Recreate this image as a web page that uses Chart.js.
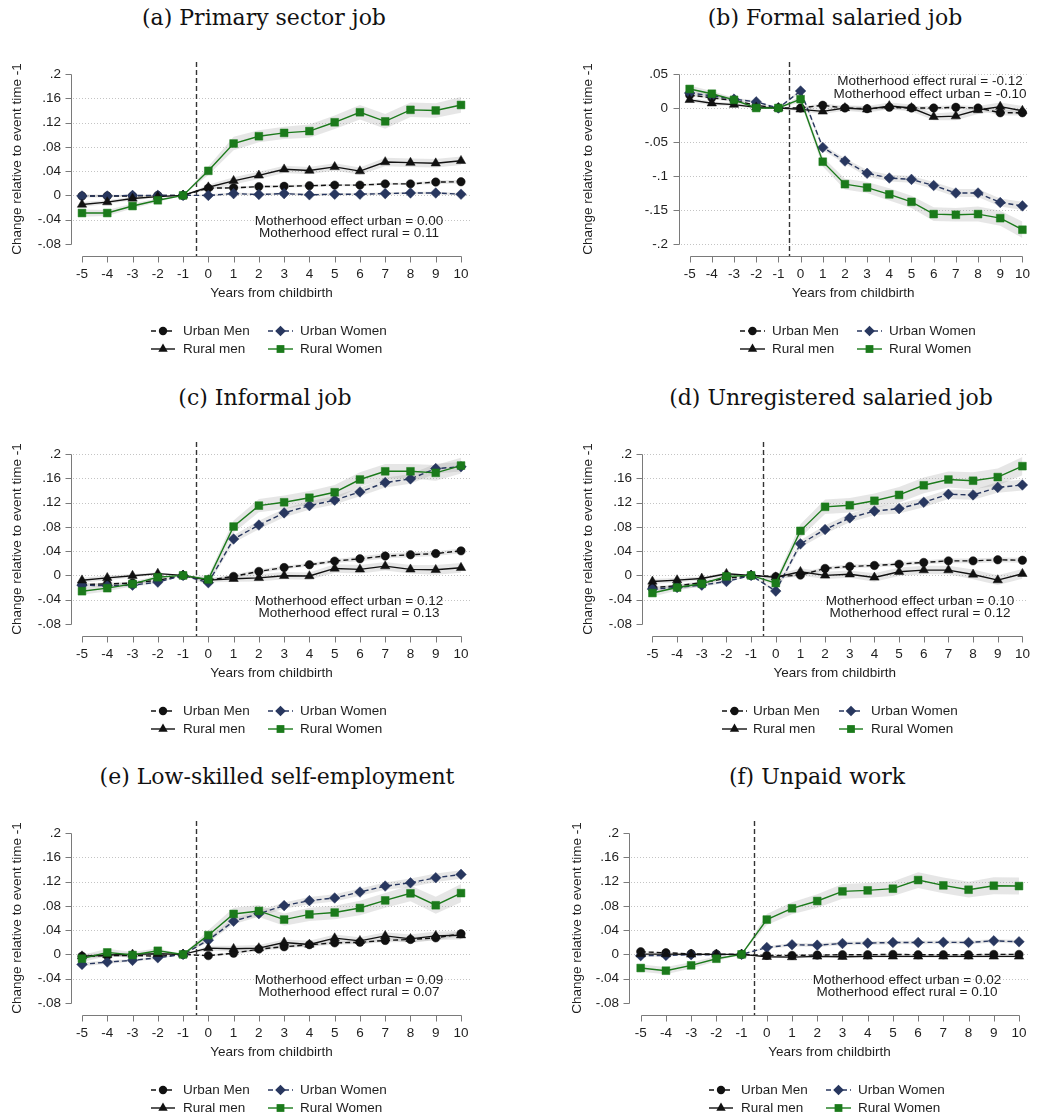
<!DOCTYPE html>
<html>
<head>
<meta charset="utf-8">
<script src="https://cdn.jsdelivr.net/npm/chart.js@4.4.1/dist/chart.umd.min.js"></script>
<style>
body{margin:0;background:#fff;width:1040px;height:1120px;position:relative;overflow:hidden}
canvas{position:absolute}
.ttl{position:absolute;font-family:"DejaVu Serif",serif;font-size:22px;color:#111;white-space:nowrap;transform:translateX(-50%);line-height:30px}
</style>
</head>
<body>
<script>
// shared axes / labels
const years = [-5,-4,-3,-2,-1,0,1,2,3,4,5,6,7,8,9,10];
const eventTime = -0.5;
const seriesNames = ['Urban Men','Urban Women','Rural men','Rural Women'];
const yTicks = [-0.08,-0.04,0,0.04,0.08,0.12,0.16,0.2];
const yLabels = ['-.08','-.04','0','.04','.08','.12','.16','.2'];
const yTicksB = [-0.2,-0.15,-0.1,-0.05,0,0.05];
const yLabelsB = ['-.2','-.15','-.1','-.05','0','.05'];

// (a) Primary sector job
const aUM = [-0.001,-0.001,-0.001,0,0,0.012,0.0125,0.0145,0.015,0.016,0.017,0.017,0.019,0.019,0.022,0.0225];
const aUW = [-0.001,-0.001,0,0,0,0,0.003,0.0015,0.003,0.001,0.002,0.002,0.003,0.004,0.004,0.002];
const aRM = [-0.015,-0.011,-0.005,-0.002,0,0.0135,0.024,0.033,0.043,0.041,0.047,0.04,0.055,0.054,0.053,0.057];
const aRW = [-0.029,-0.029,-0.0175,-0.008,0,0.0405,0.0855,0.0975,0.103,0.106,0.1205,0.137,0.122,0.141,0.14,0.149];
const aUMci = [0.002,0.002,0.001,0.001,0,0.002,0.002,0.002,0.002,0.002,0.002,0.002,0.002,0.002,0.003,0.003];
const aUWci = [0.002,0.002,0.001,0.001,0,0.002,0.002,0.002,0.002,0.002,0.002,0.002,0.002,0.002,0.002,0.002];
const aRMci = [0.004,0.003,0.003,0.002,0,0.004,0.006,0.006,0.006,0.006,0.006,0.006,0.007,0.007,0.007,0.007];
const aRWci = [0.006,0.005,0.004,0.003,0,0.007,0.011,0.01,0.01,0.011,0.011,0.012,0.012,0.012,0.012,0.013];
const notesA = ['Motherhood effect urban = 0.00','Motherhood effect rural = 0.11'];

// (b) Formal salaried job
const bUM = [0.019,0.015,0.011,0.004,0,0,0.004,0,-0.001,0.001,0,0,0.001,0,-0.007,-0.007];
const bUW = [0.022,0.018,0.013,0.009,0,0.025,-0.058,-0.078,-0.096,-0.103,-0.105,-0.114,-0.125,-0.125,-0.139,-0.144];
const bRM = [0.012,0.007,0.005,0.001,0,-0.002,-0.005,0,-0.002,0.003,0,-0.013,-0.012,-0.003,0.002,-0.004];
const bRW = [0.028,0.021,0.012,0,0,0.013,-0.079,-0.112,-0.117,-0.127,-0.138,-0.156,-0.157,-0.156,-0.162,-0.179];
const bUMci = [0.002,0.002,0.002,0.001,0,0.002,0.003,0.003,0.003,0.003,0.003,0.003,0.003,0.003,0.004,0.004];
const bUWci = [0.003,0.003,0.002,0.002,0,0.003,0.004,0.004,0.005,0.005,0.005,0.005,0.006,0.006,0.006,0.006];
const bRMci = [0.003,0.003,0.002,0.002,0,0.003,0.004,0.004,0.005,0.005,0.005,0.005,0.006,0.006,0.006,0.007];
const bRWci = [0.005,0.004,0.003,0.002,0,0.005,0.007,0.008,0.008,0.009,0.009,0.01,0.01,0.011,0.011,0.012];
const notesB = ['Motherhood effect rural = -0.12','Motherhood effect urban = -0.10'];

// (c) Informal job
const cUM = [-0.015,-0.014,-0.0125,-0.008,0,-0.0077,-0.0016,0.0066,0.013,0.0175,0.0236,0.0274,0.032,0.034,0.036,0.0405];
const cUW = [-0.016,-0.017,-0.016,-0.011,0,-0.012,0.06,0.083,0.103,0.115,0.124,0.1375,0.153,0.159,0.176,0.179];
const cRM = [-0.008,-0.004,-0.0005,0.003,0,-0.0077,-0.0055,-0.004,-0.0005,-0.001,0.0115,0.01,0.0153,0.01,0.0093,0.0126];
const cRW = [-0.026,-0.021,-0.014,-0.003,0,-0.0066,0.0805,0.115,0.1205,0.128,0.137,0.158,0.1715,0.1715,0.169,0.181];
const cUMci = [0.002,0.002,0.002,0.001,0,0.002,0.003,0.003,0.003,0.003,0.003,0.004,0.004,0.004,0.004,0.004];
const cUWci = [0.003,0.003,0.003,0.002,0,0.004,0.006,0.007,0.007,0.007,0.007,0.007,0.008,0.008,0.008,0.008];
const cRMci = [0.004,0.004,0.003,0.002,0,0.004,0.005,0.006,0.006,0.006,0.007,0.007,0.007,0.007,0.008,0.008];
const cRWci = [0.006,0.005,0.004,0.003,0,0.006,0.01,0.011,0.011,0.011,0.012,0.012,0.012,0.012,0.013,0.013];
const notesC = ['Motherhood effect urban = 0.12','Motherhood effect rural = 0.13'];

// (d) Unregistered salaried job
const dUM = [-0.02,-0.017,-0.012,-0.005,0,-0.002,0.0005,0.0115,0.0148,0.0164,0.0186,0.0214,0.024,0.024,0.0257,0.025];
const dUW = [-0.0225,-0.0197,-0.016,-0.01,0,-0.0258,0.052,0.0756,0.0948,0.106,0.11,0.1205,0.1337,0.1326,0.145,0.149];
const dRM = [-0.01,-0.0077,-0.005,0.0027,0,-0.003,0.006,0,0.002,-0.0033,0.006,0.0088,0.0088,0.0016,-0.0077,0.0027];
const dRW = [-0.029,-0.02,-0.0137,-0.0016,0,-0.0126,0.0734,0.113,0.1156,0.123,0.1326,0.1485,0.158,0.156,0.162,0.18];
const dUMci = [0.002,0.002,0.002,0.001,0,0.002,0.003,0.003,0.003,0.003,0.003,0.003,0.004,0.004,0.004,0.004];
const dUWci = [0.003,0.003,0.003,0.002,0,0.004,0.006,0.007,0.007,0.007,0.008,0.008,0.008,0.008,0.009,0.009];
const dRMci = [0.004,0.004,0.003,0.002,0,0.004,0.006,0.006,0.006,0.007,0.007,0.007,0.007,0.008,0.008,0.008];
const dRWci = [0.006,0.005,0.004,0.003,0,0.006,0.011,0.012,0.012,0.012,0.013,0.013,0.013,0.014,0.014,0.015];
const notesD = ['Motherhood effect urban = 0.10','Motherhood effect rural = 0.12'];

// (e) Low-skilled self-employment
const eUM = [-0.003,-0.002,-0.0016,-0.003,0,-0.002,0.002,0.0087,0.0126,0.016,0.019,0.02,0.023,0.0246,0.0273,0.034];
const eUW = [-0.0164,-0.0126,-0.0098,-0.0055,0,0.0235,0.0547,0.0672,0.0804,0.0886,0.093,0.1028,0.1126,0.118,0.1263,0.1318];
const eRM = [-0.003,-0.001,0,0.001,0,0.0104,0.0093,0.0104,0.0197,0.0164,0.0268,0.0224,0.0306,0.0257,0.0306,0.0317];
const eRW = [-0.007,0.0033,-0.001,0.006,0,0.0317,0.0667,0.0716,0.0574,0.066,0.069,0.0765,0.089,0.1006,0.081,0.101];
const eUMci = [0.002,0.002,0.002,0.001,0,0.002,0.002,0.003,0.003,0.003,0.003,0.003,0.003,0.004,0.004,0.004];
const eUWci = [0.003,0.003,0.002,0.002,0,0.004,0.005,0.005,0.005,0.006,0.006,0.006,0.006,0.007,0.007,0.007];
const eRMci = [0.004,0.003,0.003,0.002,0,0.004,0.005,0.005,0.005,0.006,0.006,0.006,0.006,0.007,0.007,0.007];
const eRWci = [0.006,0.006,0.005,0.004,0,0.008,0.01,0.01,0.01,0.011,0.011,0.012,0.012,0.013,0.014,0.015];
const notesE = ['Motherhood effect urban = 0.09','Motherhood effect rural = 0.07'];

// (f) Unpaid work
const fUM = [0.0044,0.0027,0.001,0.0005,0,-0.0016,-0.0016,-0.001,-0.0005,-0.0005,0,-0.0005,-0.0005,-0.0005,0,0];
const fUW = [-0.002,-0.0016,-0.0005,-0.0005,0,0.0115,0.0159,0.0153,0.018,0.0186,0.0197,0.0197,0.02,0.0197,0.0224,0.0208];
const fRM = [0.0005,0.0005,0,0,0,-0.0038,-0.0044,-0.0033,-0.0038,-0.0033,-0.0033,-0.0033,-0.0033,-0.0033,-0.0033,-0.0033];
const fRW = [-0.0224,-0.0268,-0.018,-0.0071,0,0.0574,0.076,0.088,0.1039,0.1055,0.1083,0.1225,0.1137,0.1066,0.1132,0.1126];
const fUMci = [0.001,0.001,0.001,0.001,0,0.001,0.001,0.001,0.001,0.001,0.001,0.001,0.001,0.001,0.001,0.001];
const fUWci = [0.002,0.002,0.001,0.001,0,0.002,0.003,0.003,0.003,0.003,0.003,0.003,0.003,0.003,0.003,0.003];
const fRMci = [0.001,0.001,0.001,0.001,0,0.001,0.002,0.002,0.002,0.002,0.002,0.002,0.002,0.002,0.002,0.002];
const fRWci = [0.006,0.006,0.005,0.004,0,0.009,0.01,0.011,0.012,0.012,0.012,0.013,0.013,0.013,0.014,0.014];
const notesF = ['Motherhood effect urban = 0.02','Motherhood effect rural = 0.10'];

const FONT = '"Liberation Sans", Arial, sans-serif';
const TXT = '#1e1e1e';
const BAND = 'rgba(150,150,150,0.24)';
Chart.defaults.font.family = FONT;
Chart.defaults.font.size = 13.5;
Chart.defaults.color = TXT;

const styles = [
  {color:'#111111', dash:[5,3], point:'circle', r:4.2},
  {color:'#28375f', dash:[5,3], point:'rectRot', r:5.3},
  {color:'#111111', dash:[], point:'triangle', r:5.4},
  {color:'#1b7a1b', dash:[], point:'rect', r:5.5}
];

function drawMarker(ctx, style, x, y, r, color) {
  ctx.save();
  ctx.setLineDash([]);
  ctx.fillStyle = color;
  ctx.beginPath();
  if (style === 'circle') ctx.arc(x, y, r, 0, Math.PI * 2);
  else if (style === 'rectRot') { ctx.moveTo(x - r, y); ctx.lineTo(x, y - r); ctx.lineTo(x + r, y); ctx.lineTo(x, y + r); ctx.closePath(); }
  else if (style === 'rect') { const s = r * Math.SQRT1_2; ctx.rect(x - s, y - s, 2 * s, 2 * s); }
  else { ctx.moveTo(x, y - r); ctx.lineTo(x + r * 0.866, y + r / 2); ctx.lineTo(x - r * 0.866, y + r / 2); ctx.closePath(); }
  ctx.fill();
  ctx.restore();
}

// axes, dotted grid, event line, legend and notes in Stata style
const frame = {
  id: 'frame',
  beforeDatasetsDraw(chart, args, o) {
    const {ctx, chartArea: a, scales: {x, y}} = chart;
    const yv = y.ticks.map(t => t.value);
    const xv = x.ticks.map(t => t.value);
    ctx.save();
    ctx.lineWidth = 1;
    ctx.strokeStyle = '#c4c4c4';
    ctx.setLineDash([1, 2]);
    yv.forEach((v, i) => {
      if (i === 0 && !o.gridBottom) return;
      if (i === yv.length - 1 && !o.gridTop) return;
      const py = Math.round(y.getPixelForValue(v)) + 0.5;
      ctx.beginPath(); ctx.moveTo(a.left + 2, py); ctx.lineTo(a.right, py); ctx.stroke();
    });
    ctx.setLineDash([]);
    ctx.strokeStyle = '#7a7a7a';
    const ax = Math.round(a.left) + 0.5;
    const by = Math.round(a.bottom) + 0.5;
    ctx.beginPath();
    ctx.moveTo(ax, Math.round(y.getPixelForValue(yv[0])) + 0.5);
    ctx.lineTo(ax, Math.round(y.getPixelForValue(yv[yv.length - 1])) + 0.5);
    yv.forEach(v => { const py = Math.round(y.getPixelForValue(v)) + 0.5; ctx.moveTo(ax - 6, py); ctx.lineTo(ax, py); });
    ctx.moveTo(Math.round(x.getPixelForValue(xv[0])) + 0.5, by);
    ctx.lineTo(Math.round(x.getPixelForValue(xv[xv.length - 1])) + 0.5, by);
    xv.forEach(v => { const px = Math.round(x.getPixelForValue(v)) + 0.5; ctx.moveTo(px, by); ctx.lineTo(px, by + 6); });
    ctx.stroke();
    ctx.strokeStyle = '#333';
    ctx.lineWidth = 1.4;
    ctx.setLineDash([5, 3]);
    const ex = Math.round(x.getPixelForValue(eventTime)) + 0.5;
    ctx.beginPath(); ctx.moveTo(ex, a.top); ctx.lineTo(ex, a.bottom); ctx.stroke();
    ctx.restore();
  },
  afterDraw(chart, args, o) {
    const {ctx} = chart;
    ctx.save();
    ctx.font = '13.5px ' + FONT;
    ctx.fillStyle = TXT;
    ctx.textBaseline = 'middle';
    ctx.textAlign = 'center';
    o.notes.forEach((s, i) => ctx.fillText(s, o.noteX, o.noteY[i]));
    ctx.textAlign = 'left';
    seriesNames.forEach((name, k) => {
      const ds = chart.data.datasets.find(d => d.label === name);
      const [x1, x2, tx] = o.legCols[k % 2];
      const ly = o.legRows[Math.floor(k / 2)];
      ctx.strokeStyle = ds.borderColor;
      ctx.lineWidth = 1.4;
      ctx.setLineDash(ds.borderDash);
      ctx.beginPath(); ctx.moveTo(x1, ly); ctx.lineTo(x2, ly); ctx.stroke();
      drawMarker(ctx, ds.pointStyle, (x1 + x2) / 2, ly, ds.pointRadius, ds.borderColor);
      ctx.fillStyle = TXT;
      ctx.fillText(name, tx, ly);
    });
    ctx.restore();
  }
};
Chart.register(frame);

const panels = [
  {heading:'(a) Primary sector job', left:0, top:40, right:472, yAxisW:71, titleX:264,
   xmin:-5.435, xmax:10.435, ymin:-0.0998, ymax:0.2198, yt:yTicks, yl:yLabels, yPad:10, yTitlePad:9.2, gridTop:false, gridBottom:false,
   series:[aUM,aUW,aRM,aRW], ci:[aUMci,aUWci,aRMci,aRWci], notes:notesA, noteX:349, noteY:[181,193],
   legCols:[[151,175,183],[268,293,300]]},
  {heading:'(b) Formal salaried job', left:520, top:40, right:1037, yAxisW:159, titleX:835,
   xmin:-5.48, xmax:10.22, ymin:-0.21765, ymax:0.06765, yt:yTicksB, yl:yLabelsB, yPad:11, yTitlePad:60.2, gridTop:true, gridBottom:true,
   series:[bUM,bUW,bRM,bRW], ci:[bUMci,bUWci,bRMci,bRWci], notes:notesB, noteX:410, noteY:[41,54],
   legCols:[[220,245,252],[337,362,369]]},
  {heading:'(c) Informal job', left:0, top:420, right:472, yAxisW:71, titleX:265,
   xmin:-5.435, xmax:10.435, ymin:-0.0998, ymax:0.2198, yt:yTicks, yl:yLabels, yPad:10, yTitlePad:9.2, gridTop:true, gridBottom:false,
   series:[cUM,cUW,cRM,cRW], ci:[cUMci,cUWci,cRMci,cRWci], notes:notesC, noteX:349, noteY:[181,193],
   legCols:[[151,175,183],[268,293,300]]},
  {heading:'(d) Unregistered salaried job', left:520, top:420, right:1037, yAxisW:122, titleX:831,
   xmin:-5.423, xmax:10.21, ymin:-0.0998, ymax:0.2198, yt:yTicks, yl:yLabels, yPad:10, yTitlePad:60.2, gridTop:true, gridBottom:false,
   series:[dUM,dUW,dRM,dRW], ci:[dUMci,dUWci,dRMci,dRWci], notes:notesD, noteX:400, noteY:[181,193],
   legCols:[[202,227,233],[319,343,351]]},
  {heading:'(e) Low-skilled self-employment', left:0, top:799, right:472, yAxisW:71, titleX:277,
   xmin:-5.435, xmax:10.435, ymin:-0.0998, ymax:0.2198, yt:yTicks, yl:yLabels, yPad:10, yTitlePad:9.2, gridTop:false, gridBottom:false,
   series:[eUM,eUW,eRM,eRW], ci:[eUMci,eUWci,eRMci,eRWci], notes:notesE, noteX:349, noteY:[181,193],
   legCols:[[151,175,183],[268,293,300]]},
  {heading:'(f) Unpaid work', left:520, top:799, right:1030, yAxisW:109, titleX:817,
   xmin:-5.464, xmax:10.436, ymin:-0.0998, ymax:0.2198, yt:yTicks, yl:yLabels, yPad:10, yTitlePad:48.9, gridTop:false, gridBottom:false,
   series:[fUM,fUW,fRM,fRW], ci:[fUMci,fUWci,fRMci,fRWci], notes:notesF, noteX:387, noteY:[181,193],
   legCols:[[189,213,221],[306,331,338]]}
];

function makePanel(p) {
  const t = document.createElement('div');
  t.className = 'ttl';
  t.textContent = p.heading;
  t.style.left = p.titleX + 'px';
  t.style.top = (p.top - 37) + 'px';
  document.body.appendChild(t);

  const cv = document.createElement('canvas');
  cv.width = 520; cv.height = 330;
  cv.style.left = p.left + 'px';
  cv.style.top = p.top + 'px';
  document.body.appendChild(cv);

  const ds = [];
  p.series.forEach((vals, k) => {
    const ci = p.ci[k];
    ds.push({data: years.map((x, i) => ({x, y: vals[i] + ci[i]})), fill: '+1', backgroundColor: BAND,
             borderColor: 'transparent', borderWidth: 0, pointRadius: 0, order: 10});
    ds.push({data: years.map((x, i) => ({x, y: vals[i] - ci[i]})), fill: false,
             borderColor: 'transparent', borderWidth: 0, pointRadius: 0, order: 10});
  });
  p.series.forEach((vals, k) => {
    const s = styles[k];
    ds.push({label: seriesNames[k], data: years.map((x, i) => ({x, y: vals[i]})),
             borderColor: s.color, backgroundColor: s.color, borderDash: s.dash, borderWidth: 1.4,
             pointStyle: s.point, pointRadius: s.r, pointBackgroundColor: s.color, pointBorderColor: s.color,
             pointBorderWidth: 0.5, fill: false, tension: 0, order: 3 - k, clip: false});
  });

  new Chart(cv, {
    type: 'line',
    data: {datasets: ds},
    options: {
      responsive: false, animation: false, events: [],
      layout: {padding: {left: 0, top: 22, right: p.left + 520 - p.right, bottom: 54}},
      plugins: {
        legend: {display: false}, tooltip: {enabled: false},
        frame: {gridTop: p.gridTop, gridBottom: p.gridBottom, notes: p.notes, noteX: p.noteX, noteY: p.noteY,
                legCols: p.legCols, legRows: [291, 309]}
      },
      scales: {
        x: {
          type: 'linear', min: p.xmin, max: p.xmax,
          grid: {display: false, drawTicks: false}, border: {display: false},
          afterBuildTicks: s => { s.ticks = years.map(v => ({value: v})); },
          afterFit: s => { s.height = 60; },
          ticks: {autoSkip: false, maxRotation: 0, padding: 10, callback: v => String(v)},
          title: {display: true, text: 'Years from childbirth', padding: {top: 0, bottom: 15}}
        },
        y: {
          min: p.ymin, max: p.ymax,
          grid: {display: false, drawTicks: false}, border: {display: false},
          afterBuildTicks: s => { s.ticks = p.yt.map(v => ({value: v})); },
          afterFit: s => { s.width = p.yAxisW; },
          ticks: {padding: p.yPad, callback: (v, i) => p.yl[i]},
          title: {display: true, text: 'Change relative to event time -1', padding: {top: p.yTitlePad, bottom: 0}}
        }
      }
    }
  });
}

panels.forEach(makePanel);
</script>
</body>
</html>
